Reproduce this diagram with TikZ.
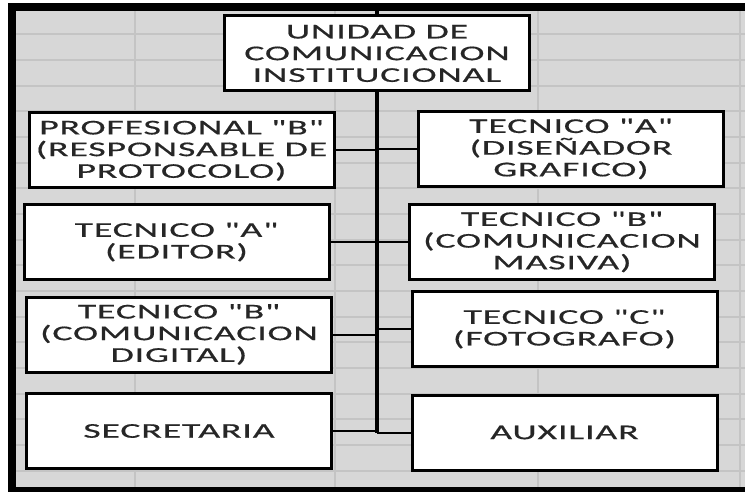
\documentclass[tikz,border=0pt]{standalone}
\usepackage{fontspec}
\newfontfamily\boxfont[FakeStretch=1.8,LetterSpace=4,FakeBold=0.6]{Carlito}
\definecolor{cellgray}{HTML}{D7D7D7}
\definecolor{gridgray}{HTML}{C4C4C4}
\definecolor{inkgray}{HTML}{262626}
\tikzset{
  puesto/.style={draw=black,line width=3pt,fill=white,minimum width=305pt,minimum height=75pt,inner sep=0pt,align=center,text=inkgray,font=\boxfont\fontsize{21}{21.7}\selectfont},
  tronco/.style={line width=3.5pt},
  rama/.style={line width=2pt}
}
\begin{document}
\begin{tikzpicture}[x=1pt,y=-1pt]
\useasboundingbox (0,0) rectangle (745,492);
\fill[cellgray] (8,3) rectangle (745,492);
\foreach \gx in {135,335,538,740}
  \draw[gridgray,line width=2pt] (\gx,3) -- (\gx,492);
\foreach \gy in {0,...,17}
  \draw[gridgray,line width=2pt] (8,34.5+25.65*\gy) -- (745,34.5+25.65*\gy);
\fill[black] (8,3) rectangle (745,11);
\fill[black] (8,3) rectangle (16,492);
\fill[black] (8,487) rectangle (745,492);

\coordinate (techo) at (377,11);

\node[puesto] (unidad) at (377,53.5) {UNIDAD DE\\COMUNICACION\\INSTITUCIONAL};

\node[puesto] (prof) at (181.5,150.5) {PROFESIONAL "B"\\(RESPONSABLE DE\\PROTOCOLO)};
\node[puesto] (editor) at (176.5,242) {TECNICO "A"\\(EDITOR)};
\node[puesto] (digital) at (179,334.5) {TECNICO "B"\\(COMUNICACION\\DIGITAL)};
\node[puesto] (secre) at (179,431) {SECRETARIA};

\node[puesto] (disen) at (571,149) {TECNICO "A"\\(DISEÑADOR\\GRAFICO)};
\node[puesto] (masiva) at (562,242) {TECNICO "B"\\(COMUNICACION\\MASIVA)};
\node[puesto] (foto) at (564.5,329) {TECNICO "C"\\(FOTOGRAFO)};
\node[puesto] (auxi) at (564.5,432.5) {AUXILIAR};

\coordinate (fondo) at (unidad.south |- auxi.west);

\draw[tronco] (techo) -- (unidad.north);
\draw[tronco] (unidad.south) -- (fondo);

\draw[rama] (prof.east) -- (prof.east -| unidad.south);
\draw[rama] (editor.east) -- (editor.east -| unidad.south);
\draw[rama] (digital.east) -- (digital.east -| unidad.south);
\draw[rama] (secre.east) -- (secre.east -| unidad.south);
\draw[rama] (disen.west) -- (disen.west -| unidad.south);
\draw[rama] (masiva.west) -- (masiva.west -| unidad.south);
\draw[rama] (foto.west) -- (foto.west -| unidad.south);
\draw[rama] (auxi.west) -- (auxi.west -| unidad.south);

\end{tikzpicture}
\end{document}
